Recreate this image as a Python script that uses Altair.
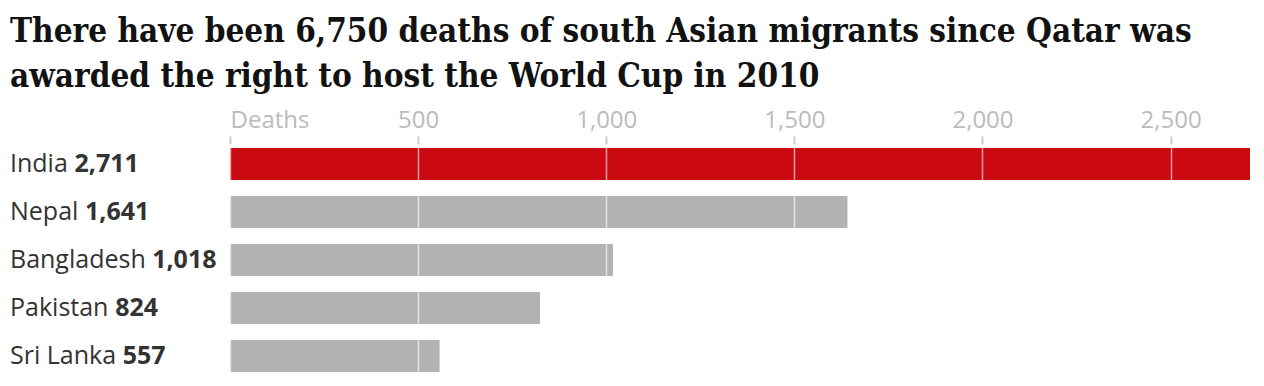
import altair as alt
import pandas as pd

countries = ["India", "Nepal", "Bangladesh", "Pakistan", "Sri Lanka"]
deaths = [2711, 1641, 1018, 824, 557]
highlight = "India"
tick_values = [0, 500, 1000, 1500, 2000, 2500]
title_lines = [
    "There have been 6,750 deaths of south Asian migrants since Qatar was",
    "awarded the right to host the World Cup in 2010",
]

RED = "#cc0a12"
GREY = "#b3b3b3"
LABEL_FS = 25
LABEL_LEFT = -220

# approximate Open Sans regular advance widths (em) to place the bold number after the name
OPEN_SANS_W = {
    " ": 0.26, "I": 0.279, "n": 0.613, "d": 0.613, "i": 0.258, "a": 0.556,
    "N": 0.754, "e": 0.561, "p": 0.613, "l": 0.258, "B": 0.632, "g": 0.547,
    "s": 0.479, "h": 0.613, "P": 0.603, "k": 0.529, "t": 0.353, "S": 0.549,
    "r": 0.408, "L": 0.518,
}


def text_width(s, fs):
    return sum(OPEN_SANS_W.get(c, 0.55) for c in s) * fs


df = pd.DataFrame({"country": countries, "deaths": deaths})
df["num"] = df["deaths"].map(lambda v: f"{v:,}")
df["numx"] = [LABEL_LEFT + text_width(c + " ", LABEL_FS) for c in countries]

y_enc = alt.Y(
    "country:N",
    sort=countries,
    axis=None,
    scale=alt.Scale(paddingInner=1 / 3, paddingOuter=1 / 12),
)

bars = alt.Chart(df).mark_bar().encode(
    x=alt.X(
        "deaths:Q",
        scale=alt.Scale(domain=[0, max(deaths)], nice=False),
        axis=alt.Axis(
            orient="top",
            values=tick_values,
            labelExpr="datum.value == 0 ? 'Deaths' : format(datum.value, ',')",
            labelFlush=True,
            grid=True,
            gridColor="white",
            gridOpacity=0.6,
            gridWidth=1.5,
            tickColor="#cccccc",
            tickSize=8,
            tickWidth=2,
            domain=False,
            labelColor="#bbbbbb",
            labelFont="Open Sans",
            labelFontSize=24,
            labelPadding=4,
            title=None,
            zindex=1,
        ),
    ),
    y=y_enc,
    color=alt.condition(
        alt.datum.country == highlight, alt.value(RED), alt.value(GREY)
    ),
)

names = alt.Chart(df).mark_text(
    align="left", baseline="middle", font="Open Sans", fontSize=LABEL_FS, color="#333333"
).encode(x=alt.value(LABEL_LEFT), y=y_enc, text="country:N")

nums = alt.Chart(df).mark_text(
    align="left",
    baseline="middle",
    font="Open Sans",
    fontSize=LABEL_FS,
    fontWeight="bold",
    color="#333333",
).encode(x=alt.X("numx:Q", scale=None), y=y_enc, text="num:N")

chart = (
    alt.layer(bars, names, nums)
    .properties(
        width=1020,
        height=232,
        autosize=alt.AutoSizeParams(type="none"),
        padding={"left": 222, "top": 136, "right": 6, "bottom": 2},
        title=alt.TitleParams(
            text=title_lines,
            anchor="start",
            frame="bounds",
            font="DejaVu Serif Condensed",
            fontWeight="bold",
            fontSize=33,
            color="#121212",
            lineHeight=45,
            offset=14,
        ),
    )
    .configure_view(stroke=None)
)

chart.save("out.html", embed_options={"renderer": "svg", "actions": False})
